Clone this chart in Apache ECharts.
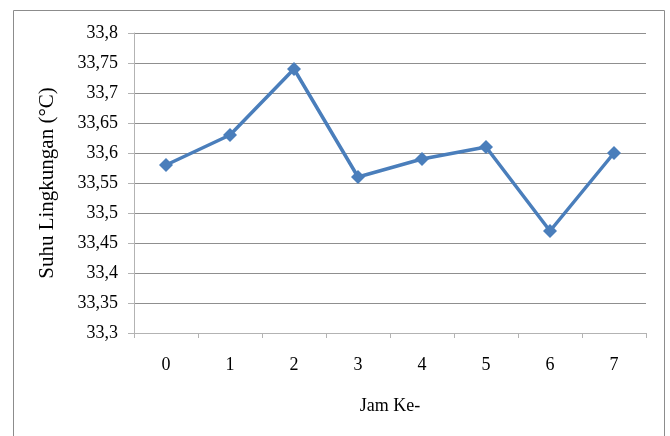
<!DOCTYPE html>
<html>
<head>
<meta charset="utf-8">
<script src="https://cdn.jsdelivr.net/npm/echarts@6/dist/echarts.min.js"></script>
<style>
  html, body { margin: 0; padding: 0; background: #fff; }
  #chart { width: 670px; height: 436px; }
</style>
</head>
<body>
<div id="chart"></div>
<script>
// Hourly ambient temperature readings
const hours = ['0', '1', '2', '3', '4', '5', '6', '7'];
const temperature = [33.58, 33.63, 33.74, 33.56, 33.59, 33.61, 33.47, 33.60];
const yMin = 33.3;
const yMax = 33.8;
const yStep = 0.05;

// Decimal comma, trimmed to two places
const fmtComma = v => String(+(+v).toFixed(2)).replace('.', ',');

const chart = echarts.init(document.getElementById('chart'), null, { renderer: 'canvas' });
chart.setOption({
  animation: false,
  backgroundColor: '#fff',
  textStyle: { fontFamily: 'Liberation Serif' },
  graphic: [{
    type: 'rect',
    shape: { x: 13.5, y: 10.5, width: 651, height: 440 },
    style: { fill: 'none', stroke: '#8c8c8c', lineWidth: 1 },
    silent: true
  }],
  grid: { left: 134, right: 24, top: 33, bottom: 103, containLabel: false },
  xAxis: {
    type: 'category',
    data: hours,
    boundaryGap: true,
    name: 'Jam Ke-',
    nameLocation: 'middle',
    nameGap: 64,
    nameTextStyle: { fontFamily: 'Liberation Serif', fontSize: 18, color: '#000' },
    axisLine: { lineStyle: { color: '#b3b3b3', width: 1 } },
    axisTick: { show: true, length: 5, lineStyle: { color: '#b3b3b3' } },
    axisLabel: { fontFamily: 'Liberation Serif', fontSize: 18, color: '#000', margin: 23 },
    splitLine: { show: false }
  },
  yAxis: {
    type: 'value',
    min: yMin,
    max: yMax,
    interval: yStep,
    name: 'Suhu Lingkungan (°C)',
    nameLocation: 'middle',
    nameGap: 76,
    nameRotate: 90,
    nameTextStyle: { fontFamily: 'Liberation Serif', fontSize: 21, color: '#000' },
    axisLine: { show: true, lineStyle: { color: '#b3b3b3', width: 1 } },
    axisTick: { show: true, length: 6, lineStyle: { color: '#b3b3b3' } },
    axisLabel: { fontFamily: 'Liberation Serif', fontSize: 18, color: '#000', margin: 16, formatter: fmtComma },
    splitLine: { show: true, lineStyle: { color: '#8f8f8f', width: 1 } }
  },
  series: [{
    type: 'line',
    data: temperature,
    symbol: 'diamond',
    symbolSize: 14,
    lineStyle: { color: '#4a7ebb', width: 3.5 },
    itemStyle: { color: '#4a7ebb' },
    z: 5
  }]
});
</script>
</body>
</html>
